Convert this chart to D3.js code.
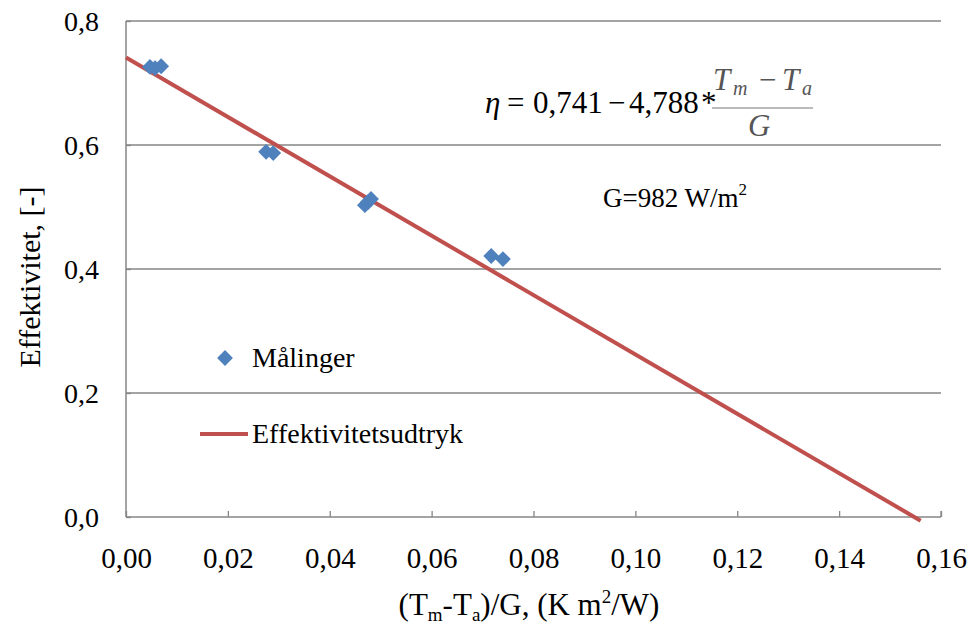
<!DOCTYPE html>
<html><head><meta charset="utf-8">
<script src="https://cdn.jsdelivr.net/npm/d3@7"></script>
<style>body{margin:0;background:#fff}svg{display:block}svg text{font-family:"Liberation Serif","Tinos","Times New Roman",serif;fill:#000}</style>
</head><body><svg id="c" width="969" height="629"></svg>
<script>
const measX = [0.0047, 0.0057, 0.0069, 0.0275, 0.0289, 0.0469, 0.0475, 0.0481, 0.0717, 0.0740];
const measY = [0.726, 0.724, 0.727, 0.589, 0.587, 0.503, 0.508, 0.513, 0.421, 0.416];
const fitIntercept = 0.741, fitSlope = -4.788;
const fitX = [0, 0.156];
const xTicks = [0, 0.02, 0.04, 0.06, 0.08, 0.10, 0.12, 0.14, 0.16];
const yTicks = [0, 0.2, 0.4, 0.6, 0.8];

const svg = d3.select("#c");
const L = 126, R = 941, T = 21, B = 517;
const x = d3.scaleLinear().domain([0, 0.16]).range([L, R]);
const y = d3.scaleLinear().domain([0, 0.8]).range([B, T]);
const fmtX = d => d3.format(".2f")(d).replace(".", ",");
const fmtY = d => d3.format(".1f")(d).replace(".", ",");
const grid = "#868686";
const FF = "Liberation Serif";

svg.append("g").selectAll("line").data(yTicks.filter(d => d > 0)).join("line")
  .attr("x1", L).attr("x2", R).attr("y1", d => y(d)).attr("y2", d => y(d))
  .attr("stroke", grid).attr("stroke-width", 1.3);
svg.append("line").attr("x1", L).attr("x2", L).attr("y1", T).attr("y2", B).attr("stroke", grid).attr("stroke-width", 1.5);
svg.append("line").attr("x1", L).attr("x2", R).attr("y1", B).attr("y2", B).attr("stroke", grid).attr("stroke-width", 1.5);
svg.append("line").attr("x1", R).attr("x2", R).attr("y1", B-6).attr("y2", B).attr("stroke", grid).attr("stroke-width", 1.3);

const xa = svg.append("g").attr("transform", `translate(0,${B})`)
  .call(d3.axisBottom(x).tickValues(xTicks).tickFormat(fmtX).tickSize(-6));
xa.attr("font-family", FF);
xa.select(".domain").remove();
xa.selectAll("line").attr("stroke", grid).attr("stroke-width", 1.3);
xa.selectAll("text").attr("font-size", 29).attr("fill", "#000")
  .attr("dy", null).attr("y", 51);

const ya = svg.append("g").attr("transform", `translate(${L},0)`)
  .call(d3.axisLeft(y).tickValues(yTicks).tickFormat(fmtY).tickSize(-5));
ya.attr("font-family", FF);
ya.select(".domain").remove();
ya.selectAll("line").attr("stroke", grid).attr("stroke-width", 1.3);
ya.selectAll("text").attr("font-size", 28).attr("fill", "#000")
  .attr("dy", null).attr("y", 9).attr("x", -27);

const lineGen = d3.line().x(d => x(d)).y(d => y(fitIntercept + fitSlope * d));
svg.append("path").datum(fitX).attr("d", lineGen)
  .attr("fill", "none").attr("stroke", "#C0504D").attr("stroke-width", 4);

const sym = d3.symbol().type(d3.symbolSquare).size(125);
svg.append("g").selectAll("path").data(measX.map((v, i) => [v, measY[i]])).join("path")
  .attr("d", sym).attr("transform", d => `translate(${x(d[0])},${y(d[1])}) rotate(45)`)
  .attr("fill", "#4F81BD");

// legend
svg.append("path").attr("d", sym).attr("transform", "translate(225,358) rotate(45)").attr("fill", "#4F81BD");
svg.append("text").attr("x", 252).attr("y", 367).attr("font-size", 28).text("Målinger");
svg.append("line").attr("x1", 200).attr("x2", 248).attr("y1", 434).attr("y2", 434).attr("stroke", "#C0504D").attr("stroke-width", 4);
svg.append("text").attr("x", 252).attr("y", 443).attr("font-size", 28).text("Effektivitetsudtryk");

// equation
const eqParts = [
  {t: "η", x: 485, it: true}, {t: "=", x: 507}, {t: "0,741", x: 533},
  {t: "−", x: 608}, {t: "4,788", x: 629}, {t: "*", x: 701}
];
svg.append("g").selectAll("text").data(eqParts).join("text")
  .attr("x", d => d.x).attr("y", 113).attr("font-size", 31)
  .attr("font-style", d => d.it ? "italic" : null).text(d => d.t);
const numParts = [
  {t: "T", x: 713, fs: 31, dy: 0, it: true}, {t: "m", x: 733, fs: 20, dy: 5, it: true},
  {t: "−", x: 759, fs: 31, dy: 0}, {t: "T", x: 782, fs: 31, dy: 0, it: true},
  {t: "a", x: 802, fs: 20, dy: 5, it: true}
];
svg.append("g").selectAll("text").data(numParts).join("text")
  .attr("x", d => d.x).attr("y", d => 90 + d.dy).attr("font-size", d => d.fs)
  .attr("font-style", d => d.it ? "italic" : null).style("fill", "#555").text(d => d.t);
svg.append("line").attr("x1", 712).attr("x2", 813).attr("y1", 108).attr("y2", 108).attr("stroke", "#777").attr("stroke-width", 1);
svg.append("text").attr("x", 748).attr("y", 136).attr("font-size", 31).attr("font-style", "italic").style("fill", "#555").text("G");

const gt = svg.append("text").attr("x", 603).attr("y", 207).attr("font-size", 27);
gt.append("tspan").text("G=982 W/m");
gt.append("tspan").attr("font-size", 17).attr("dy", -12).text("2");

// axis titles
svg.append("text").attr("transform", "translate(40,277) rotate(-90)").attr("text-anchor", "middle").attr("font-size", 30).text("Effektivitet, [-]");
const xt = svg.append("text").attr("x", 529).attr("y", 615).attr("text-anchor", "middle").attr("font-size", 31);
xt.append("tspan").text("(T");
xt.append("tspan").attr("font-size", 19).attr("dy", 6).text("m");
xt.append("tspan").attr("dy", -6).text("-T");
xt.append("tspan").attr("font-size", 19).attr("dy", 6).text("a");
xt.append("tspan").attr("dy", -6).text(")/G, (K m");
xt.append("tspan").attr("font-size", 19).attr("dy", -12).text("2");
xt.append("tspan").attr("dy", 12).text("/W)");
</script></body></html>
